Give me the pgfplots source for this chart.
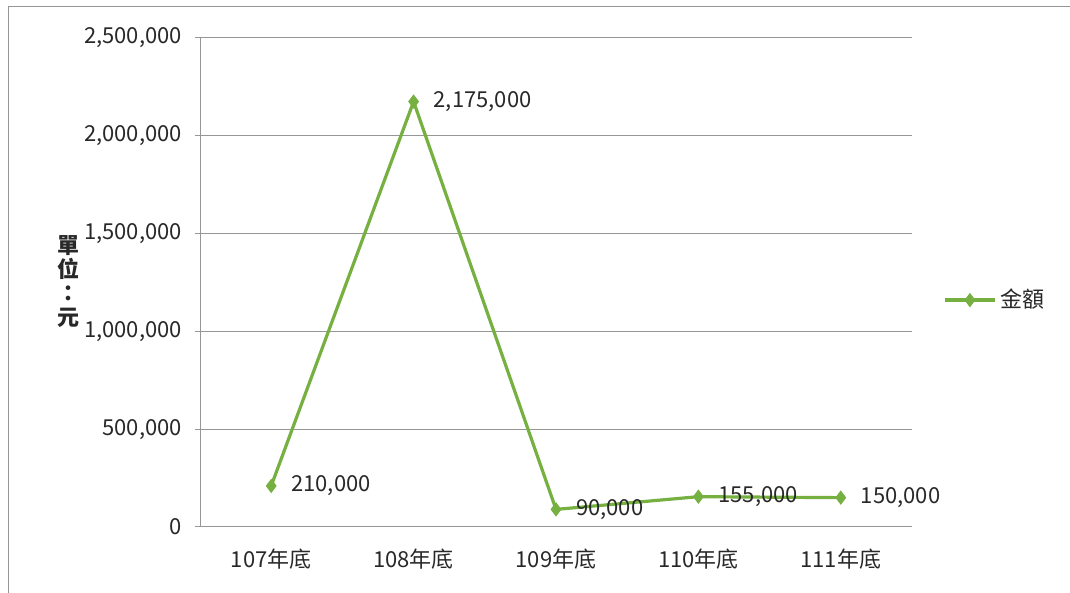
\documentclass[border=0pt]{standalone}
\usepackage{fontspec}
\setmainfont{Noto Sans CJK TC}
\usepackage{pgfplots}
\pgfplotsset{compat=1.18}

\definecolor{linegreen}{RGB}{118,176,65}
\definecolor{gridgray}{RGB}{150,150,150}
\definecolor{txt}{RGB}{40,40,40}

\begin{document}
\begin{tikzpicture}
\useasboundingbox (0,0) rectangle (535pt,296.5pt);
% outer chart frame (left and top edges visible)
\draw[gridgray, line width=0.5pt] (4pt,0) -- (4pt,293pt) -- (535pt,293pt);
% y label, stacked vertically
\node[txt, align=center, font=\fontsize{11}{12}\selectfont\bfseries, inner sep=0pt]
  at (34pt,155.5pt) {單\\位\\：\\元};
\begin{axis}[
  at={(100pt,33pt)}, anchor=south west,
  scale only axis,
  width=356pt, height=244.5pt,
  xmin=-0.5, xmax=4.5,
  ymin=0, ymax=2500000,
  xtick={0,1,2,3,4},
  xticklabels={107年底,108年底,109年底,110年底,111年底},
  ytick={0,500000,1000000,1500000,2000000,2500000},
  scaled y ticks=false,
  /pgf/number format/assume math mode=true,
  yticklabel={\pgfmathprintnumber[fixed,precision=0,1000 sep={,}]{\tick}},
  ymajorgrids,
  grid style={gridgray, line width=0.5pt},
  axis line style={gridgray, line width=0.5pt},
  axis x line*=bottom,
  axis y line*=left,
  tick align=outside,
  major tick length=2.5pt,
  xtick style={draw=none},
  ytick style={gridgray, line width=0.5pt},
  tick label style={txt, font=\fontsize{11}{13}\selectfont},
  xticklabel style={yshift=-5pt},
  yticklabel style={xshift=-3pt},
  legend style={at={(1.035,0.464)}, anchor=west, draw=none, fill=none,
    font=\fontsize{11}{13}\selectfont, text=txt},
  legend cell align=left,
  legend image code/.code={
    \draw[mark repeat=2, mark phase=2, #1]
      plot coordinates {(0pt,0pt) (12.5pt,0pt) (25pt,0pt)};
  },
  nodes near coords={\pgfmathprintnumber[fixed,precision=0,1000 sep={,}]{\pgfplotspointmeta}},
  nodes near coords style={anchor=west, xshift=6.5pt, yshift=0pt, txt,
    font=\fontsize{11}{13}\selectfont},
]
\addplot[linegreen, line width=1.6pt, mark=diamond*, mark size=3.2pt,
  mark options={fill=linegreen, draw=linegreen, line width=0.5pt}]
  coordinates {
    (0, 210000)
    (1, 2175000)
    (2, 90000)
    (3, 155000)
    (4, 150000)
  };
\addlegendentry{金額}
\end{axis}
\end{tikzpicture}
\end{document}
